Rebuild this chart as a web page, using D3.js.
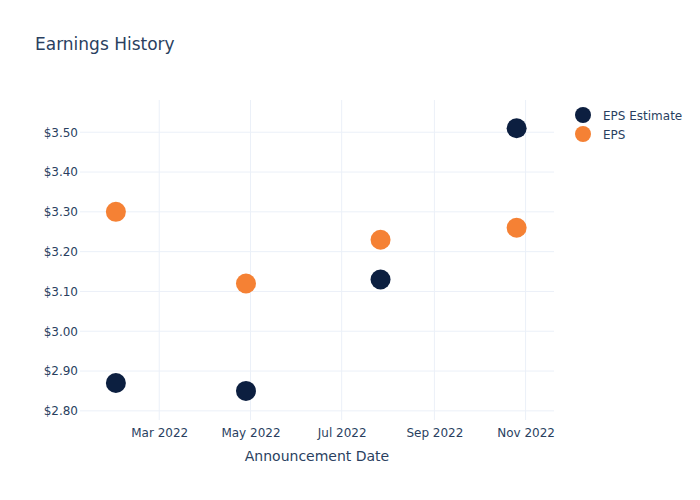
<!DOCTYPE html>
<html><head><meta charset="utf-8">
<script src="https://cdn.jsdelivr.net/npm/d3@7"></script>
<style>body{margin:0;background:#fff}svg{font-family:"DejaVu Sans",sans-serif}</style>
</head><body><svg id="c" width="700" height="500"></svg>
<script>
const dates = ["2022-01-31","2022-04-28","2022-07-27","2022-10-26"];
const epsEstimate = [2.87, 2.85, 3.13, 3.51];
const eps = [3.30, 3.12, 3.23, 3.26];
const xTickDates = ["2022-03-01","2022-05-01","2022-07-01","2022-09-01","2022-11-01"];
const yTicks = [2.8, 2.9, 3.0, 3.1, 3.2, 3.3, 3.4, 3.5];
const seriesNames = ["EPS Estimate", "EPS"];
const seriesColors = ["#0c1f40", "#f58134"];

const parse = d3.utcParse("%Y-%m-%d");
const svg = d3.select("#c");
const L = 80, R = 554, T = 100, B = 420;
const x = d3.scaleUtc().domain([parse("2022-01-07"), parse("2022-11-20")]).range([L, R]);
const y = d3.scaleLinear().domain([2.777, 3.581]).range([B, T]);
const txt = "#2a3f5f", grid = "#ebf0f8";
const FF = "DejaVu Sans";

// grid
svg.append("g").selectAll("line").data(xTickDates).join("line")
  .attr("x1", d => x(parse(d))).attr("x2", d => x(parse(d)))
  .attr("y1", T).attr("y2", B).attr("stroke", grid).attr("stroke-width", 1);
svg.append("g").selectAll("line").data(yTicks).join("line")
  .attr("x1", L).attr("x2", R)
  .attr("y1", d => y(d)).attr("y2", d => y(d)).attr("stroke", grid).attr("stroke-width", 1);

// axes
const xAxis = d3.axisBottom(x).tickValues(xTickDates.map(parse))
  .tickFormat(d3.utcFormat("%b %Y")).tickSize(0).tickPadding(8);
const gx = svg.append("g").attr("transform", `translate(0,${B})`).call(xAxis);
gx.select(".domain").remove();
gx.selectAll("text").attr("fill", txt).attr("font-size", 12).style("font-family", FF);

const yAxis = d3.axisLeft(y).tickValues(yTicks).tickFormat(d => "$" + d.toFixed(2)).tickSize(0).tickPadding(2);
const gy = svg.append("g").attr("transform", `translate(${L},0)`).call(yAxis);
gy.select(".domain").remove();
gy.selectAll("text").attr("fill", txt).attr("font-size", 12).style("font-family", FF);

// points
const series = [epsEstimate, eps];
series.forEach((vals, i) => {
  svg.append("g").selectAll("circle").data(vals).join("circle")
    .attr("cx", (d, j) => x(parse(dates[j]))).attr("cy", d => y(d))
    .attr("r", 10).attr("fill", seriesColors[i]);
});

// title
svg.append("text").attr("x", 35).attr("y", 50).attr("fill", txt)
  .attr("font-size", 17).text("Earnings History");
svg.append("text").attr("x", (L + R) / 2).attr("y", 461).attr("text-anchor", "middle")
  .attr("fill", txt).attr("font-size", 14).text("Announcement Date");

// legend
const lg = svg.append("g").selectAll("g").data(seriesNames).join("g")
  .attr("transform", (d, i) => `translate(583,${115 + i * 19})`);
lg.append("circle").attr("r", 8).attr("fill", (d, i) => seriesColors[i]);
lg.append("text").attr("x", 20).attr("y", 4.5).attr("fill", txt).attr("font-size", 12).text(d => d);
</script></body></html>
